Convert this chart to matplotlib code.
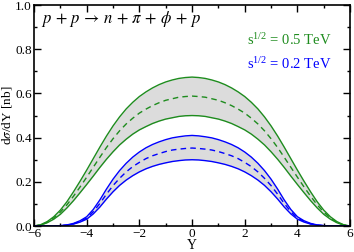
import matplotlib
matplotlib.use("Agg")
import matplotlib.pyplot as plt
from matplotlib.ticker import MultipleLocator, FormatStrFormatter

plt.rcParams['font.family'] = ['Liberation Serif', 'DejaVu Serif']
plt.rcParams['mathtext.fontset'] = 'stix'

Y = [-6.0, -5.75, -5.5, -5.25, -5.0, -4.75, -4.5, -4.25, -4.0, -3.75, -3.5, -3.25,
     -3.0, -2.75, -2.5, -2.25, -2.0, -1.75, -1.5, -1.25, -1.0, -0.75, -0.5, -0.25,
     0.0, 0.25, 0.5, 0.75, 1.0, 1.25, 1.5, 1.75, 2.0, 2.25, 2.5, 2.75,
     3.0, 3.25, 3.5, 3.75, 4.0, 4.25, 4.5, 4.75, 5.0, 5.25, 5.5, 5.75, 6.0]

green_upper = [0.000, 0.006, 0.020, 0.042, 0.072, 0.110, 0.155, 0.203, 0.253, 0.305, 0.357, 0.407,
               0.453, 0.494, 0.530, 0.560, 0.586, 0.607, 0.625, 0.640, 0.652, 0.661, 0.668, 0.672,
               0.674,
               0.672, 0.668, 0.661, 0.652, 0.640, 0.625, 0.607, 0.586, 0.560, 0.530, 0.494, 0.453,
               0.407, 0.357, 0.305, 0.253, 0.203, 0.155, 0.110, 0.072, 0.042, 0.020, 0.006, 0.000]
green_mid = [0.000, 0.005, 0.017, 0.037, 0.063, 0.096, 0.135, 0.177, 0.221, 0.266, 0.311, 0.355,
             0.395, 0.431, 0.462, 0.488, 0.511, 0.529, 0.545, 0.558, 0.569, 0.576, 0.583, 0.586,
             0.588,
             0.586, 0.583, 0.576, 0.569, 0.558, 0.545, 0.529, 0.511, 0.488, 0.462, 0.431, 0.395,
             0.355, 0.311, 0.266, 0.221, 0.177, 0.135, 0.096, 0.063, 0.037, 0.017, 0.005, 0.000]
green_lower = [0.000, 0.004, 0.015, 0.031, 0.053, 0.082, 0.115, 0.151, 0.188, 0.226, 0.265, 0.302,
               0.336, 0.367, 0.393, 0.416, 0.435, 0.450, 0.464, 0.475, 0.484, 0.490, 0.496, 0.499,
               0.500,
               0.499, 0.496, 0.490, 0.484, 0.475, 0.464, 0.450, 0.435, 0.416, 0.393, 0.367, 0.336,
               0.302, 0.265, 0.226, 0.188, 0.151, 0.115, 0.082, 0.053, 0.031, 0.015, 0.004, 0.000]

blue_upper = [0.000, 0.000, 0.000, 0.000, 0.002, 0.005, 0.012, 0.024, 0.042, 0.075, 0.118, 0.167,
              0.212, 0.251, 0.284, 0.312, 0.335, 0.354, 0.369, 0.381, 0.391, 0.399, 0.404, 0.408,
              0.410,
              0.408, 0.404, 0.399, 0.391, 0.381, 0.369, 0.354, 0.335, 0.312, 0.284, 0.251, 0.212,
              0.167, 0.118, 0.075, 0.042, 0.024, 0.012, 0.005, 0.002, 0.000, 0.000, 0.000, 0.000]
blue_mid = [0.000, 0.000, 0.000, 0.000, 0.002, 0.004, 0.010, 0.021, 0.036, 0.065, 0.102, 0.144,
            0.183, 0.216, 0.245, 0.269, 0.288, 0.305, 0.318, 0.328, 0.337, 0.344, 0.348, 0.351,
            0.353,
            0.351, 0.348, 0.344, 0.337, 0.328, 0.318, 0.305, 0.288, 0.269, 0.245, 0.216, 0.183,
            0.144, 0.102, 0.065, 0.036, 0.021, 0.010, 0.004, 0.002, 0.000, 0.000, 0.000, 0.000]
blue_lower = [0.000, 0.000, 0.000, 0.000, 0.001, 0.004, 0.009, 0.018, 0.031, 0.055, 0.086, 0.122,
              0.155, 0.184, 0.208, 0.228, 0.245, 0.259, 0.270, 0.279, 0.286, 0.292, 0.296, 0.299,
              0.300,
              0.299, 0.296, 0.292, 0.286, 0.279, 0.270, 0.259, 0.245, 0.228, 0.208, 0.184, 0.155,
              0.122, 0.086, 0.055, 0.031, 0.018, 0.009, 0.004, 0.001, 0.000, 0.000, 0.000, 0.000]

GREEN = '#1e8c1e'
BLUE = '#0000ff'
BAND = '#dcdcdc'

fig = plt.figure(figsize=(3.54, 2.52), dpi=100)
ax = fig.add_axes([0.096, 0.103, 0.893, 0.877])

for up, mid, lo, c in [(green_upper, green_mid, green_lower, GREEN),
                       (blue_upper, blue_mid, blue_lower, BLUE)]:
    ax.fill_between(Y, lo, up, color=BAND, lw=0)
    ax.plot(Y, up, color=c, lw=1.0)
    ax.plot(Y, lo, color=c, lw=1.0)
    ax.plot(Y, mid, color=c, lw=1.0, ls=(0, (4, 3)))

ax.set_xlim(-6, 6)
ax.set_ylim(0, 1.0)
ax.xaxis.set_major_locator(MultipleLocator(2))
ax.xaxis.set_minor_locator(MultipleLocator(1))
ax.yaxis.set_major_locator(MultipleLocator(0.2))
ax.yaxis.set_minor_locator(MultipleLocator(0.1))
ax.yaxis.set_major_formatter(FormatStrFormatter('%.1f'))
ax.tick_params(which='both', direction='in', top=True, right=True, labelsize=9.5, width=1.0, pad=1.5)
ax.tick_params(which='major', length=5)
ax.tick_params(which='minor', length=2.5)
for s in ax.spines.values():
    s.set_linewidth(1.2)

ax.set_xlabel('Y', fontsize=10, labelpad=-1)
ax.set_ylabel(r'd$\sigma$/dY [nb]', fontsize=9.5, labelpad=1)

ax.text(-5.75, 0.935, r'$p\,+\,p\,\rightarrow\,n\,+\,\pi\,+\,\phi\,+\,p$', fontsize=12, va='center', ha='left')
ax.text(5.3, 0.84, r'$\mathregular{s^{1/2}}$ = 0.5 TeV', color=GREEN, fontsize=10.5, ha='right', va='center')
ax.text(5.3, 0.735, r'$\mathregular{s^{1/2}}$ = 0.2 TeV', color=BLUE, fontsize=10.5, ha='right', va='center')

fig.savefig('out.png', dpi=100)
